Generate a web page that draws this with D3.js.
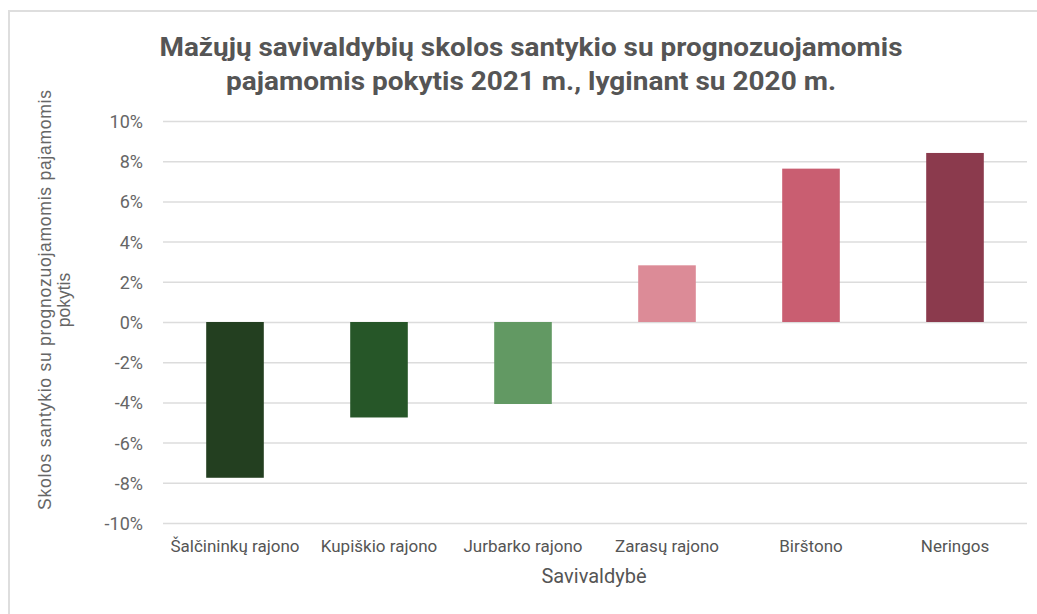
<!DOCTYPE html>
<html><head><meta charset="utf-8">
<script src="https://cdn.jsdelivr.net/npm/d3@7"></script>
<style>html,body{margin:0;padding:0;background:#fff;}svg{display:block;}</style>
</head><body>
<svg id="chart" width="1037" height="614"></svg>
<script>
const categories = ["Šalčininkų rajono","Kupiškio rajono","Jurbarko rajono","Zarasų rajono","Birštono","Neringos"];
const values = [-0.0775,-0.0475,-0.0408,0.0282,0.0763,0.0841];
const colors = ["#233f20","#265628","#629963","#dc8b97","#c95e71","#8b3a4d"];
const yTicks = [-0.10,-0.08,-0.06,-0.04,-0.02,0,0.02,0.04,0.06,0.08,0.10];
const titleLines = ["Mažųjų savivaldybių skolos santykio su prognozuojamomis","pajamomis pokytis 2021 m., lyginant su 2020 m."];
const yTitleLines = ["Skolos santykio su prognozuojamomis pajamomis","pokytis"];
const xTitle = "Savivaldybė";

const svg = d3.select("#chart");
const W = 1037, H = 614;
const m = {left:163, right:10, top:121, bottom:91};

// outer border
svg.append("rect").attr("x",9).attr("y",11).attr("width",W+20).attr("height",H+20)
  .attr("fill","none").attr("stroke","#dedede").attr("stroke-width",2);

const x = d3.scaleBand().domain(categories).range([m.left, W - m.right]).paddingInner(0.6).paddingOuter(0.3);
const y = d3.scaleLinear().domain([-0.10,0.10]).range([H - m.bottom, m.top]);

// grid
const pct = d3.format(".0%");
const yAxis = d3.axisLeft(y).tickValues(yTicks).tickFormat(d => pct(d).replace("\u2212","-")).tickSize(-(W - m.right - m.left)).tickPadding(20);
const gy = svg.append("g").attr("transform",`translate(${m.left},0)`).call(yAxis);
gy.select(".domain").remove();
gy.selectAll(".tick line").attr("stroke","#dcdcdc").attr("stroke-width",1.5);
gy.selectAll(".tick text").attr("fill","#666").attr("font-family","Roboto, sans-serif").attr("font-size",18).attr("dy","0.36em");

// bars
svg.append("g").selectAll("rect").data(values).join("rect")
  .attr("x",(d,i)=>x(categories[i]))
  .attr("width",x.bandwidth())
  .attr("y",d=>y(Math.max(0,d)))
  .attr("height",d=>Math.abs(y(d)-y(0)))
  .attr("fill",(d,i)=>colors[i]);

// x axis labels
const xAxis = d3.axisBottom(x).tickSize(0).tickPadding(17);
const gx = svg.append("g").attr("transform",`translate(0,${H - m.bottom})`).call(xAxis);
gx.select(".domain").remove();
gx.selectAll(".tick text").attr("fill","#555").attr("font-family","Roboto, sans-serif").attr("font-size",17);

// x title
svg.append("text").attr("x",594).attr("y",583).attr("text-anchor","middle")
  .attr("fill","#555").attr("font-family","Roboto, sans-serif").attr("font-size",20).text(xTitle);

// y title
const yt = svg.append("text").attr("transform","translate(51,300) rotate(-90)")
  .attr("text-anchor","middle").attr("fill","#666").attr("font-family","'Liberation Sans', Arial, sans-serif").attr("font-size",17.5);
yTitleLines.forEach((t,i)=>{
  const ts = yt.append("tspan").attr("x",0).attr("y",i*19).text(t);
  if(i===0) ts.attr("textLength",420).attr("lengthAdjust","spacing");
});

// title
const titleLen = [743, 610];
const tt = svg.append("text").attr("text-anchor","middle")
  .attr("fill","#555").attr("font-family","Roboto, sans-serif").attr("font-weight","bold").attr("font-size",25);
titleLines.forEach((t,i)=>{
  tt.append("tspan").attr("x",531).attr("y",56+i*34).attr("textLength",titleLen[i]).attr("lengthAdjust","spacingAndGlyphs").text(t);
});
</script>
</body></html>
